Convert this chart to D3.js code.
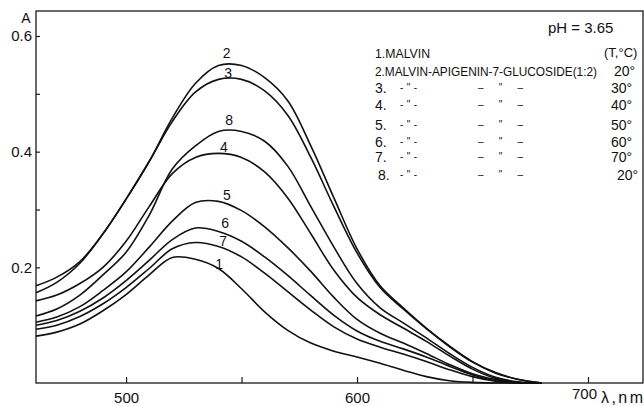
<!DOCTYPE html>
<html><head><meta charset="utf-8">
<script src="https://cdn.jsdelivr.net/npm/d3@7"></script>
<style>
body{margin:0;background:#fff}
svg{display:block}
text{font-family:"Liberation Sans",Arial,sans-serif;fill:#111}
</style>
</head><body>
<svg id="c" width="644" height="406"></svg>
<script>
// ---- data ----
const wavelengths = [461,470,480,490,500,510,520,530,540,550,560,570,580,590,600,610,620,630,640,650,660,670,680];
const curve1 = [0.081,0.088,0.102,0.125,0.153,0.187,0.217,0.214,0.198,0.163,0.123,0.091,0.069,0.055,0.045,0.034,0.022,0.011,0.004,0.001,0,0,0];
const curve2 = [0.156,0.174,0.207,0.258,0.318,0.383,0.458,0.518,0.549,0.549,0.528,0.488,0.410,0.320,0.232,0.168,0.130,0.095,0.064,0.037,0.018,0.006,0];
const curve3 = [0.168,0.183,0.210,0.258,0.318,0.383,0.452,0.503,0.525,0.525,0.505,0.463,0.390,0.305,0.225,0.165,0.128,0.094,0.063,0.036,0.017,0.006,0];
const curve4 = [0.142,0.152,0.172,0.200,0.245,0.305,0.362,0.390,0.397,0.390,0.365,0.320,0.258,0.195,0.148,0.118,0.095,0.072,0.047,0.024,0.008,0.001,0];
const curve5 = [0.105,0.114,0.132,0.160,0.192,0.235,0.280,0.312,0.314,0.298,0.270,0.234,0.193,0.148,0.110,0.086,0.069,0.051,0.032,0.016,0.006,0,0];
const curve6 = [0.100,0.108,0.124,0.147,0.177,0.212,0.248,0.268,0.262,0.245,0.218,0.186,0.151,0.117,0.090,0.072,0.059,0.045,0.029,0.014,0.004,0,0];
const curve7 = [0.093,0.100,0.115,0.137,0.165,0.198,0.232,0.243,0.236,0.218,0.190,0.158,0.126,0.097,0.076,0.062,0.050,0.037,0.023,0.011,0.003,0,0];
const curve8 = [0.116,0.128,0.152,0.187,0.226,0.290,0.370,0.410,0.435,0.435,0.418,0.375,0.305,0.235,0.172,0.130,0.104,0.078,0.051,0.027,0.010,0.002,0];

const curveIds = ["1","2","3","4","5","6","7","8"];
const curveValues = [curve1,curve2,curve3,curve4,curve5,curve6,curve7,curve8];
// label placement along each curve (wavelength) and lift above it (px)
const labelLambda = [540.3,543.6,544.2,542.4,543.7,542.9,542.0,544.6];
const labelLift   = [0.5,7.5,1.5,2.5,5,6.5,2.5,6];

const yTicks = [0.2,0.3,0.4,0.5,0.6];
const yTickLabels = [0.2,0.4,0.6];
const xTicks = [500,550,600,650,700];
const xTickLabels = [500,600,700];

const legendNums  = ["1.","2.","3.","4.","5.","6.","7.","8."];
const legendNames = ["MALVIN","MALVIN-APIGENIN-7-GLUCOSIDE(1:2)"];
const legendTemps = ["","20°","30°","40°","50°","60°","70°","20°"];

// ---- layout ----
const svg = d3.select("#c");
const x = d3.scaleLinear().domain([461,724]).range([36,643.4]);
const y = d3.scaleLinear().domain([0,0.6]).range([383,36]);

// frame
svg.append("rect").attr("x",36).attr("y",11).attr("width",607).attr("height",372)
  .attr("fill","none").attr("stroke","#1a1a1a").attr("stroke-width",1.3);

// y axis
const ya = svg.append("g").attr("transform","translate(36,0)")
  .call(d3.axisLeft(y).tickValues(yTicks).tickSize(-4).tickPadding(4)
    .tickFormat(d => yTickLabels.includes(d) ? d3.format(".1f")(d) : ""));
ya.select(".domain").remove();
ya.selectAll("line").attr("stroke","#1a1a1a").attr("stroke-width",1.2);
ya.selectAll("text").attr("font-size",15).attr("font-family","Liberation Sans").attr("fill","#111");

// x axis
const xa = svg.append("g").attr("transform","translate(0,383)")
  .call(d3.axisBottom(x).tickValues(xTicks).tickSize(-6).tickPadding(9)
    .tickFormat(d => xTickLabels.includes(d) ? String(d) : ""));
xa.select(".domain").remove();
xa.selectAll("line").attr("stroke","#1a1a1a").attr("stroke-width",1.2);
xa.selectAll("text").attr("font-size",15).attr("font-family","Liberation Sans").attr("fill","#111")
  .attr("transform", d => d===700 ? "translate(-4,-4)" : null);

// axis titles
svg.append("text").attr("x",26).attr("y",23).attr("text-anchor","middle").attr("font-size",14).text("A");
svg.append("text").attr("x",601).attr("y",403).attr("font-size",16).attr("textLength",42).text("λ,nm");

// curves
const line = d3.line().x((d,i)=>x(wavelengths[i])).y(d=>y(d)).curve(d3.curveCatmullRom.alpha(0.5));
svg.append("g").selectAll("path").data(curveValues).join("path")
  .attr("d", line).attr("fill","none").attr("stroke","#111").attr("stroke-width",1.6)
  .attr("stroke-linejoin","round");

// curve labels
function valAt(vals, lam){
  const i = d3.bisectRight(wavelengths, lam) - 1;
  const t = (lam - wavelengths[i])/(wavelengths[i+1]-wavelengths[i]);
  return vals[i] + t*(vals[i+1]-vals[i]);
}
svg.append("g").selectAll("text").data(curveIds).join("text")
  .attr("x",(d,i)=>x(labelLambda[i]))
  .attr("y",(d,i)=>y(valAt(curveValues[i],labelLambda[i])) - labelLift[i])
  .attr("text-anchor","middle").attr("font-size",14).text(d=>d);

// legend
svg.append("text").attr("x",548).attr("y",33).attr("font-size",15).text("pH = 3.65");
const rowY = [58,76,93,110,130,147,162,180];
const leg = svg.append("g");
leg.append("text").attr("x",375).attr("y",rowY[0]).attr("font-size",12).attr("textLength",55)
  .attr("lengthAdjust","spacingAndGlyphs").text(legendNums[0]+legendNames[0]);
leg.append("text").attr("x",375).attr("y",rowY[1]).attr("font-size",12).attr("textLength",222)
  .attr("lengthAdjust","spacingAndGlyphs").text(legendNums[1]+legendNames[1]);
leg.append("text").attr("x",604).attr("y",rowY[0]-1).attr("font-size",13).text("(T,°C)");
legendNums.slice(2).forEach((n,k)=>{
  const r = k+2;
  leg.append("text").attr("x", r===7 ? 378 : 375).attr("y",rowY[r]).attr("font-size",14).text(n);
  leg.append("text").attr("x",400).attr("y",rowY[r]-2).attr("font-size",10).attr("textLength",17).text("- \" -");
  leg.append("text").attr("x",478).attr("y",rowY[r]-2).attr("font-size",10).attr("textLength",45).text("–  \"  –");
});
legendTemps.forEach((t,r)=>{
  if(!t) return;
  const xx = r===1 ? 614 : (r===7 ? 617 : 611);
  leg.append("text").attr("x",xx).attr("y",rowY[r]).attr("font-size",14).text(t);
});
</script>
</body></html>
